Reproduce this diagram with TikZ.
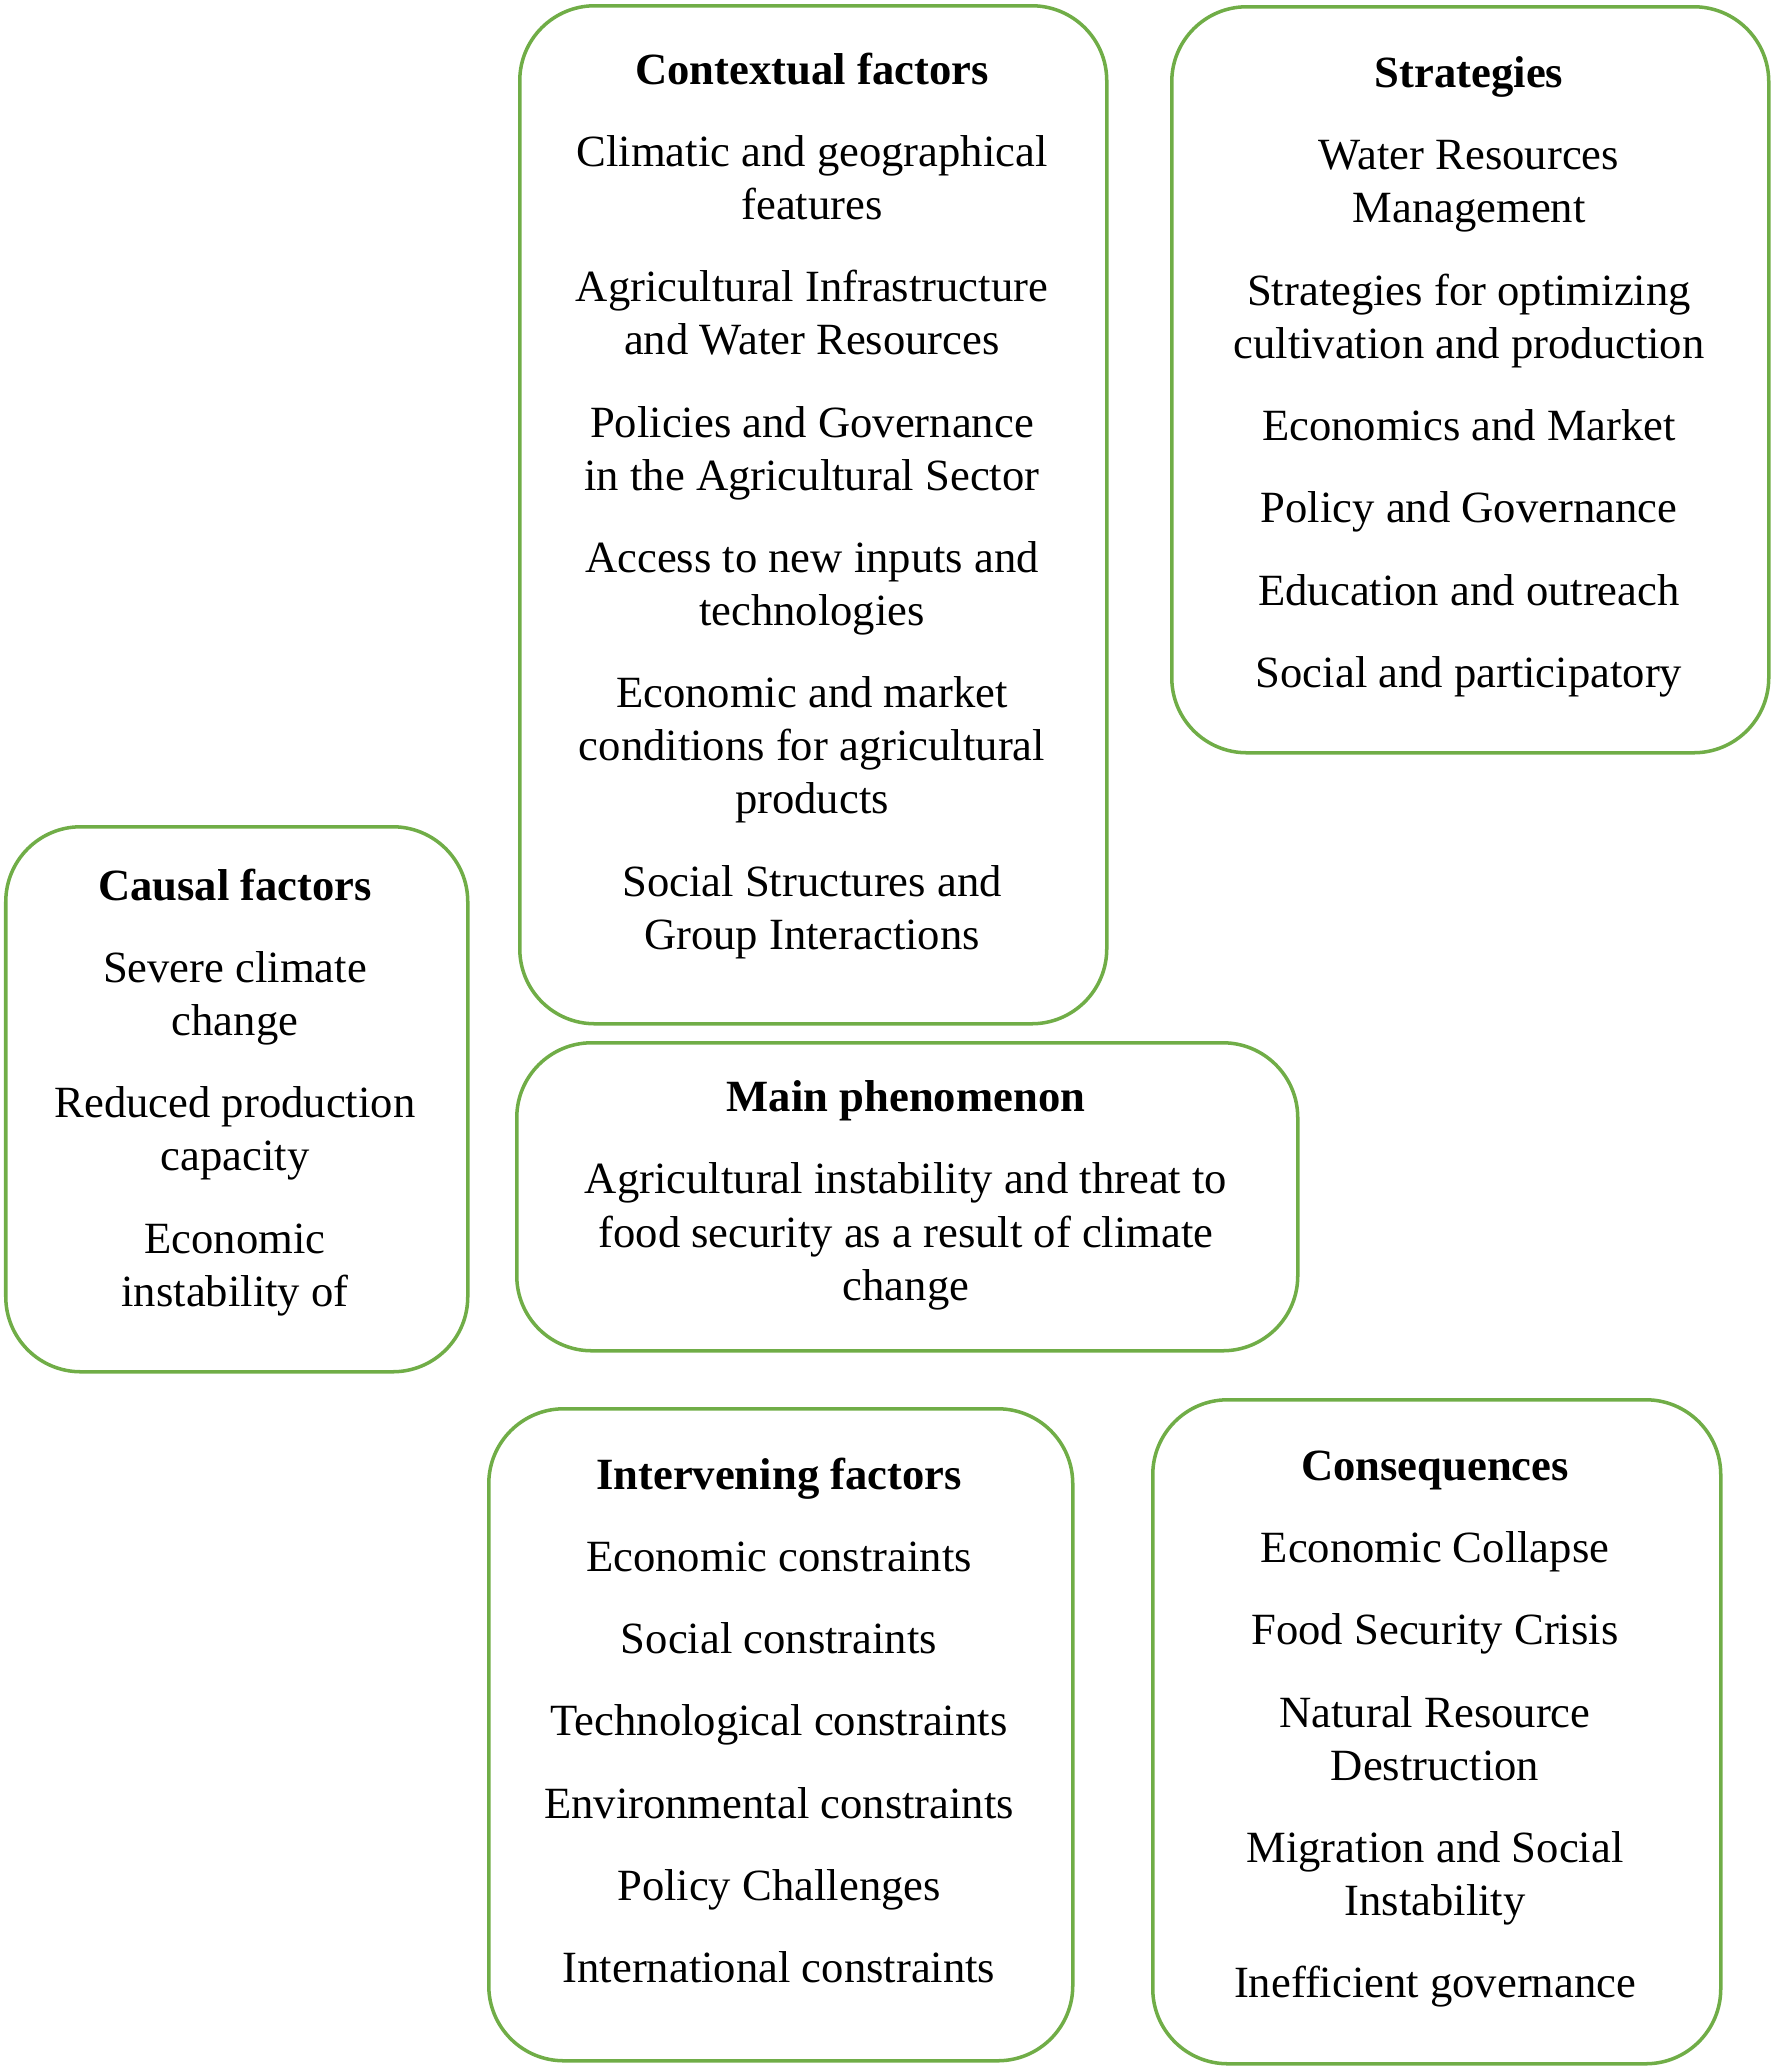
\documentclass[tikz,border=0pt]{standalone}
\usepackage{fontspec}
\setmainfont{Liberation Serif}
\usepackage{tikz}
\usetikzlibrary{positioning}
\definecolor{boxgreen}{RGB}{112,173,71}

\begin{document}
\begin{tikzpicture}[
    box/.style={draw=boxgreen, line width=1pt, rounded corners=0.75cm, anchor=north west, inner sep=0pt},
    boxtext/.style={anchor=north, align=center, inner sep=0pt, font=\fontsize{12.7}{15.1}\selectfont}
  ]
		%%%%% START %%%%%
		\useasboundingbox (0, 0) rectangle (17.72, -20.66);

		% contextual factors
		\node[box, minimum width=5.87cm, minimum height=10.18cm] (ctxbox) at (5.18, -0.04) {};
		\node[boxtext] (ctxtext) at (8.12, -0.52) {\textbf{Contextual factors}\\[8.3pt]
			Climatic and geographical\\features\\[8.3pt]
			Agricultural Infrastructure\\and Water Resources\\[8.3pt]
			Policies and Governance\\in the Agricultural Sector\\[8.3pt]
			Access to new inputs and\\technologies\\[8.3pt]
			Economic and market\\conditions for agricultural\\products\\[8.3pt]
			Social Structures and\\Group Interactions};

		% strategies
		\node[box, minimum width=5.97cm, minimum height=7.46cm] (stratbox) at (11.70, -0.05) {};
		\node[boxtext] (strattext) at (14.69, -0.56) {\textbf{Strategies}\\[8.3pt]
			Water Resources\\Management\\[8.3pt]
			Strategies for optimizing\\cultivation and production\\[8.3pt]
			Economics and Market\\[8.3pt]
			Policy and Governance\\[8.3pt]
			Education and outreach\\[8.3pt]
			Social and participatory};

		% causal factors
		\node[box, minimum width=4.62cm, minimum height=5.45cm] (causebox) at (0.04, -8.25) {};
		\node[boxtext] (causetext) at (2.35, -8.68) {\textbf{Causal factors}\\[8.3pt]
			Severe climate\\change\\[8.3pt]
			Reduced production\\capacity\\[8.3pt]
			Economic\\instability of};

		% main phenomenon
		\node[box, minimum width=7.81cm, minimum height=3.08cm] (mainbox) at (5.15, -10.41) {};
		\node[boxtext] (maintext) at (9.06, -10.80) {\textbf{Main phenomenon}\\[8.3pt]
			Agricultural instability and threat to\\food security as a result of climate\\change};

		% intervening factors
		\node[box, minimum width=5.84cm, minimum height=6.52cm] (intbox) at (4.87, -14.07) {};
		\node[boxtext] (inttext) at (7.79, -14.57) {\textbf{Intervening factors}\\[8.3pt]
			Economic constraints\\[8.3pt]
			Social constraints\\[8.3pt]
			Technological constraints\\[8.3pt]
			Environmental constraints\\[8.3pt]
			Policy Challenges\\[8.3pt]
			International constraints};

		% consequences
		\node[box, minimum width=5.68cm, minimum height=6.64cm] (consbox) at (11.51, -13.98) {};
		\node[boxtext] (constext) at (14.35, -14.50) {\textbf{Consequences}\\[8.3pt]
			Economic Collapse\\[8.3pt]
			Food Security Crisis\\[8.3pt]
			Natural Resource\\Destruction\\[8.3pt]
			Migration and Social\\Instability\\[8.3pt]
			Inefficient governance};
		%%%%% END %%%%%
\end{tikzpicture}
\end{document}
